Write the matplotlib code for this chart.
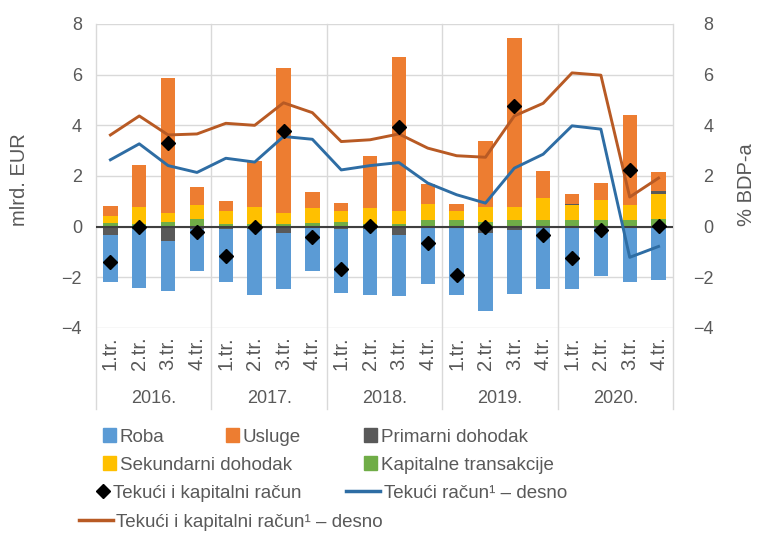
import numpy as np
import matplotlib
matplotlib.use('Agg')
import matplotlib.pyplot as plt
from matplotlib.patches import Patch
from matplotlib.lines import Line2D

plt.rcParams['font.family'] = ['Liberation Sans', 'DejaVu Sans']

### Data
years = ['2016.', '2017.', '2018.', '2019.', '2020.']
quarters = ['1.tr.', '2.tr.', '3.tr.', '4.tr.'] * 5

roba = [-1.85, -2.31, -1.97, -1.68, -2.09, -2.58, -2.23, -1.71, -2.53, -2.62,
        -2.42, -2.23, -2.65, -3.08, -2.51, -2.40, -2.48, -1.90, -2.15, -2.09]
usluge = [0.38, 1.66, 5.31, 0.71, 0.42, 1.84, 5.71, 0.62, 0.33, 2.03,
          6.08, 0.78, 0.28, 2.61, 6.65, 1.05, 0.40, 0.68, 3.54, 0.74]
primarni = [-0.32, -0.10, -0.58, -0.08, -0.08, -0.10, -0.25, -0.05, -0.08, -0.08,
            -0.32, -0.05, -0.05, -0.25, -0.13, -0.05, 0.05, -0.03, -0.04, 0.12]
sekundarni = [0.27, 0.66, 0.36, 0.55, 0.50, 0.66, 0.44, 0.60, 0.40, 0.62,
              0.48, 0.63, 0.35, 0.58, 0.50, 0.85, 0.57, 0.78, 0.59, 0.98]
kapitalne = [0.15, 0.12, 0.18, 0.30, 0.10, 0.10, 0.10, 0.15, 0.20, 0.12,
             0.12, 0.28, 0.25, 0.20, 0.28, 0.28, 0.28, 0.28, 0.28, 0.30]
tek_kap = [-1.40, -0.03, 3.29, -0.22, -1.17, 0.00, 3.78, -0.41, -1.69, 0.03,
           3.92, -0.64, -1.89, 0.00, 4.76, -0.31, -1.23, -0.15, 2.24, 0.03]
tek_rac_bdp = [2.64, 3.27, 2.41, 2.14, 2.70, 2.55, 3.56, 3.45, 2.24, 2.41,
               2.53, 1.72, 1.26, 0.93, 2.31, 2.86, 3.98, 3.85, -1.21, -0.78]
tek_kap_bdp = [3.62, 4.37, 3.62, 3.66, 4.08, 4.00, 4.89, 4.50, 3.36, 3.43,
               3.66, 3.10, 2.80, 2.74, 4.37, 4.87, 6.07, 5.98, 1.17, 1.92]

c_roba = '#5b9bd5'
c_usl = '#ed7d31'
c_prim = '#595959'
c_sek = '#ffc000'
c_kap = '#70ad47'
c_line_blue = '#2e6da4'
c_line_brown = '#b85a24'
txt = '#595959'
grid_c = '#d9d9d9'
FS = 13
LFS = 13.5

fig = plt.figure(figsize=(7.6, 5.37), dpi=100)
W, H = 760, 537
x0, x1, ytop, ybot = 96, 673, 24, 328
ax = fig.add_axes([x0 / W, 1 - ybot / H, (x1 - x0) / W, (ybot - ytop) / H])
ax2 = ax.twinx()

x = np.arange(len(roba))
bw = 0.5

# stacking: positives from zero green, yellow, gray, orange; negatives gray then blue
series = [(kapitalne, c_kap), (sekundarni, c_sek), (primarni, c_prim),
          (usluge, c_usl), (roba, c_roba)]
neg_order = [(primarni, c_prim), (kapitalne, c_kap), (sekundarni, c_sek),
             (usluge, c_usl), (roba, c_roba)]
pos_bottom = np.zeros(len(x))
for vals, col in series:
    v = np.array(vals)
    vp = np.where(v > 0, v, 0)
    ax.bar(x, vp, bw, bottom=pos_bottom, color=col, zorder=2)
    pos_bottom += vp
neg_bottom = np.zeros(len(x))
for vals, col in neg_order:
    v = np.array(vals)
    vn = np.where(v < 0, v, 0)
    ax.bar(x, vn, bw, bottom=neg_bottom, color=col, zorder=2)
    neg_bottom += vn

ax.axhline(0, color='#3f3f3f', lw=1.5, zorder=3)

ax2.plot(x, tek_rac_bdp, color=c_line_blue, lw=2.1, zorder=3)
ax2.plot(x, tek_kap_bdp, color=c_line_brown, lw=2.1, zorder=3)
ax2.plot(x, tek_kap, linestyle='none', marker='D', ms=7.5, color='black', zorder=4)

ticklabs = ['\u2212' + str(-t) if t < 0 else str(t) for t in range(-4, 9, 2)]
for a in (ax, ax2):
    a.set_ylim(-4, 8)
    a.set_xlim(-0.5, 19.5)
    a.set_yticks(np.arange(-4, 9, 2))
    a.set_yticklabels(ticklabs)
    for s in a.spines.values():
        s.set_visible(False)
    a.tick_params(length=0, labelsize=FS, labelcolor=txt)
ax.tick_params(axis='y', pad=10)
ax2.tick_params(axis='y', pad=29)
for lab in ax2.get_yticklabels():
    lab.set_horizontalalignment('right')

for t in np.arange(-4, 9, 2):
    ax.axhline(t, color=grid_c, lw=1, zorder=1)

# year separators, running into the category area
for xs in [-0.5, 3.5, 7.5, 11.5, 15.5, 19.5]:
    ax.plot([xs, xs], [8, -7.2], color=grid_c, lw=1, clip_on=False, zorder=1)

ax.set_xticks(x)
ax.set_xticklabels(quarters, rotation=90, fontsize=14.5, color=txt)
ax.tick_params(axis='x', length=0, pad=6)
for i, yr in enumerate(years):
    ax.text(i * 4 + 1.5, -6.8, yr, ha='center', va='center', fontsize=FS, color=txt)

fig.text(20 / W, 1 - 180 / H, 'mlrd. EUR', rotation=90, ha='center', va='center', fontsize=14.5, color=txt)
fig.text(747 / W, 1 - 185 / H, '% BDP-a', rotation=90, ha='center', va='center', fontsize=14.5, color=txt)

# legend entries placed one by one
items = [
    (Patch(color=c_roba), 'Roba', 103, 437),
    (Patch(color=c_usl), 'Usluge', 226, 437),
    (Patch(color=c_prim), 'Primarni dohodak', 364, 437),
    (Patch(color=c_sek), 'Sekundarni dohodak', 103, 465),
    (Patch(color=c_kap), 'Kapitalne transakcije', 364, 465),
    (Line2D([], [], ls='none', marker='D', ms=7, color='black'), 'Tekući i kapitalni račun', 96, 493),
    (Line2D([], [], color=c_line_blue, lw=2.5), 'Tekući račun\u00b9 \u2013 desno', 346, 493),
    (Line2D([], [], color=c_line_brown, lw=2.5), 'Tekući i kapitalni račun\u00b9 \u2013 desno', 79, 522),
]
for h, lab, lx, ly in items:
    is_line = isinstance(h, Line2D) and h.get_linestyle() != 'None'
    leg = fig.legend(handles=[h], labels=[lab], loc='center left',
                     bbox_to_anchor=(lx / W, 1 - ly / H), frameon=False,
                     fontsize=LFS, borderpad=0, borderaxespad=0,
                     handlelength=1.8 if is_line else 0.7, handleheight=0.7,
                     handletextpad=0.2)
    for t in leg.get_texts():
        t.set_color(txt)

plt.savefig('out.png', dpi=100)
